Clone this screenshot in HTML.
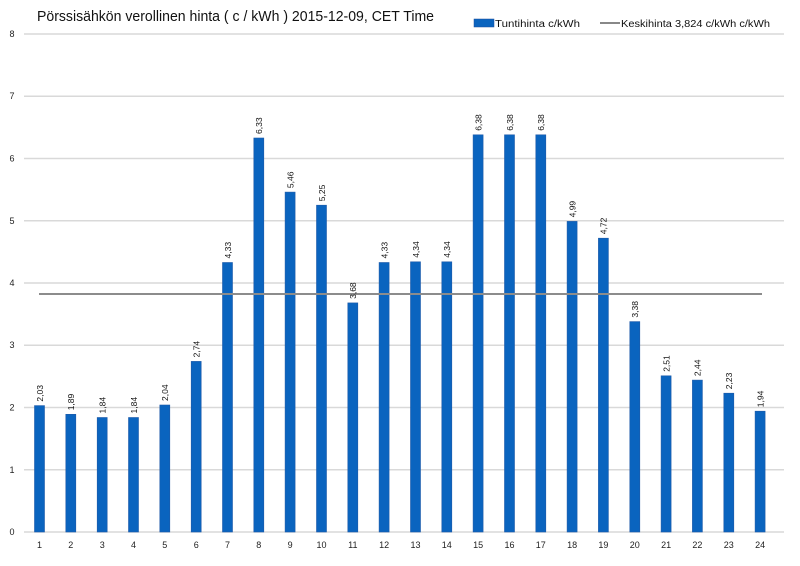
<!DOCTYPE html>
<html><head><meta charset="utf-8"><style>
body{margin:0;background:#fff}
svg{display:block;font-family:"Liberation Sans",sans-serif}
.t{font-size:9px;fill:#222}
.l{font-size:8.5px;fill:#111}
</style></head><body>
<svg width="800" height="566" viewBox="0 0 800 566">
<rect width="800" height="566" fill="#fff"/>
<text x="37" y="21" font-size="15" fill="#111" textLength="397" lengthAdjust="spacingAndGlyphs">Pörssisähkön verollinen hinta ( c / kWh ) 2015-12-09, CET Time</text>
<rect x="474" y="19" width="20" height="8" fill="#0a64bf" stroke="#1f4f9a" stroke-width="0.5"/>
<text x="495" y="27" font-size="10" fill="#111" textLength="85" lengthAdjust="spacingAndGlyphs">Tuntihinta c/kWh</text>
<rect x="600" y="22" width="20" height="2" fill="#888"/>
<text x="621" y="27" font-size="10" fill="#111" textLength="149" lengthAdjust="spacingAndGlyphs">Keskihinta 3,824 c/kWh c/kWh</text>
<g stroke="#d9d9d9" stroke-width="1.5">
<line x1="24" x2="784" y1="34" y2="34"/>
<line x1="24" x2="784" y1="96.25" y2="96.25"/>
<line x1="24" x2="784" y1="158.5" y2="158.5"/>
<line x1="24" x2="784" y1="220.75" y2="220.75"/>
<line x1="24" x2="784" y1="283" y2="283"/>
<line x1="24" x2="784" y1="345.25" y2="345.25"/>
<line x1="24" x2="784" y1="407.5" y2="407.5"/>
<line x1="24" x2="784" y1="469.75" y2="469.75"/>
<line x1="24" x2="784" y1="532" y2="532"/>
</g>
<g class="t" text-anchor="middle">
<text x="12" y="37">8</text><text x="12" y="99">7</text><text x="12" y="161.5">6</text><text x="12" y="224">5</text><text x="12" y="286">4</text><text x="12" y="348">3</text><text x="12" y="410.5">2</text><text x="12" y="473">1</text><text x="12" y="535">0</text>
<text x="39.5" y="548">1</text><text x="70.8" y="548">2</text><text x="102.2" y="548">3</text><text x="133.5" y="548">4</text><text x="164.8" y="548">5</text><text x="196.2" y="548">6</text><text x="227.5" y="548">7</text><text x="258.8" y="548">8</text><text x="290.1" y="548">9</text><text x="321.5" y="548">10</text><text x="352.8" y="548">11</text><text x="384.1" y="548">12</text><text x="415.5" y="548">13</text><text x="446.8" y="548">14</text><text x="478.1" y="548">15</text><text x="509.5" y="548">16</text><text x="540.8" y="548">17</text><text x="572.1" y="548">18</text><text x="603.4" y="548">19</text><text x="634.8" y="548">20</text><text x="666.1" y="548">21</text><text x="697.4" y="548">22</text><text x="728.8" y="548">23</text><text x="760.1" y="548">24</text>
</g>
<g fill="#0a64bf" stroke="#1f5aa8" stroke-width="0.6">
<rect x="34.5" y="405.6" width="10" height="126.4"/>
<rect x="65.8" y="414.3" width="10" height="117.7"/>
<rect x="97.2" y="417.5" width="10" height="114.5"/>
<rect x="128.5" y="417.5" width="10" height="114.5"/>
<rect x="159.8" y="405" width="10" height="127"/>
<rect x="191.2" y="361.4" width="10" height="170.6"/>
<rect x="222.5" y="262.5" width="10" height="269.5"/>
<rect x="253.8" y="138" width="10" height="394"/>
<rect x="285.1" y="192.1" width="10" height="339.9"/>
<rect x="316.5" y="205.2" width="10" height="326.8"/>
<rect x="347.8" y="302.9" width="10" height="229.1"/>
<rect x="379.1" y="262.5" width="10" height="269.5"/>
<rect x="410.5" y="261.8" width="10" height="270.2"/>
<rect x="441.8" y="261.8" width="10" height="270.2"/>
<rect x="473.1" y="134.8" width="10" height="397.2"/>
<rect x="504.5" y="134.8" width="10" height="397.2"/>
<rect x="535.8" y="134.8" width="10" height="397.2"/>
<rect x="567.1" y="221.4" width="10" height="310.6"/>
<rect x="598.4" y="238.2" width="10" height="293.8"/>
<rect x="629.8" y="321.6" width="10" height="210.4"/>
<rect x="661.1" y="375.8" width="10" height="156.2"/>
<rect x="692.4" y="380.1" width="10" height="151.9"/>
<rect x="723.8" y="393.2" width="10" height="138.8"/>
<rect x="755.1" y="411.2" width="10" height="120.8"/>
</g>
<line x1="39" x2="762" y1="294" y2="294" stroke="#8c8c8c" stroke-width="2"/>
<g class="l">
<text transform="translate(42.8,401.6) rotate(-90)">2,03</text>
<text transform="translate(74.1,410.3) rotate(-90)">1,89</text>
<text transform="translate(105.5,413.5) rotate(-90)">1,84</text>
<text transform="translate(136.8,413.5) rotate(-90)">1,84</text>
<text transform="translate(168.1,401) rotate(-90)">2,04</text>
<text transform="translate(199.5,357.4) rotate(-90)">2,74</text>
<text transform="translate(230.8,258.5) rotate(-90)">4,33</text>
<text transform="translate(262.1,134) rotate(-90)">6,33</text>
<text transform="translate(293.4,188.1) rotate(-90)">5,46</text>
<text transform="translate(324.8,201.2) rotate(-90)">5,25</text>
<text transform="translate(356.1,298.9) rotate(-90)">3,68</text>
<text transform="translate(387.4,258.5) rotate(-90)">4,33</text>
<text transform="translate(418.8,257.8) rotate(-90)">4,34</text>
<text transform="translate(450.1,257.8) rotate(-90)">4,34</text>
<text transform="translate(481.4,130.8) rotate(-90)">6,38</text>
<text transform="translate(512.8,130.8) rotate(-90)">6,38</text>
<text transform="translate(544.1,130.8) rotate(-90)">6,38</text>
<text transform="translate(575.4,217.4) rotate(-90)">4,99</text>
<text transform="translate(606.7,234.2) rotate(-90)">4,72</text>
<text transform="translate(638.1,317.6) rotate(-90)">3,38</text>
<text transform="translate(669.4,371.8) rotate(-90)">2,51</text>
<text transform="translate(700.7,376.1) rotate(-90)">2,44</text>
<text transform="translate(732.1,389.2) rotate(-90)">2,23</text>
<text transform="translate(763.4,407.2) rotate(-90)">1,94</text>
</g>
</svg>
</body></html>
